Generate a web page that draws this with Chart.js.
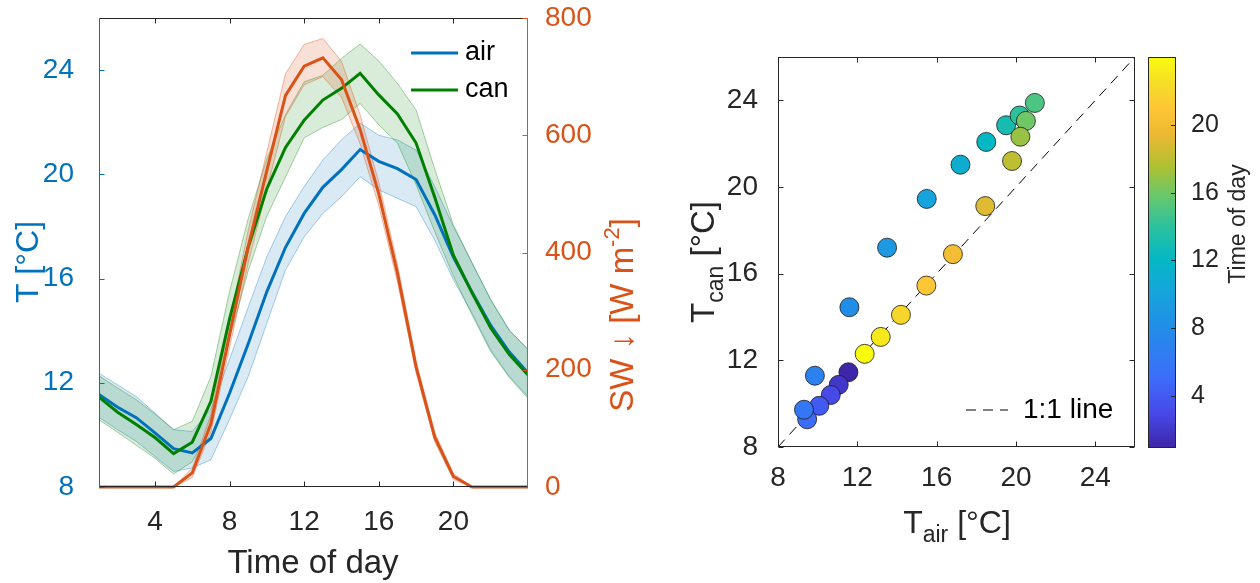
<!DOCTYPE html>
<html>
<head>
<meta charset="utf-8">
<script src="https://cdn.jsdelivr.net/npm/chart.js@4/dist/chart.umd.min.js"></script>
<style>
  body { margin:0; background:#fff; width:1260px; height:583px; overflow:hidden; position:relative; }
  .panel { position:absolute; top:0; height:583px; }
  #p-left  { left:0;     width:640px; }
  #p-right { left:640px; width:620px; }
</style>
</head>
<body>
<div class="panel" id="p-left"><canvas id="chart-diurnal"></canvas></div>
<div class="panel" id="p-right"><canvas id="chart-scatter"></canvas></div>
<script>
/* ---- data (hourly means) ---- */
const hours   = [1,2,3,4,5,6,7,8,9,10,11,12,13,14,15,16,17,18,19,20,21,22,23,24];
const airMean = [11.55,11.06,10.66,10.08,9.47,9.31,9.86,11.6,13.5,15.5,17.2,18.5,19.5,20.18,20.95,20.5,20.22,19.8,18.45,16.82,15.48,14.2,13.18,12.37];
const airLo   = [10.67,10.2,9.75,9.17,8.6,8.73,9.05,10.6,12.24,14.29,16.33,17.6,18.5,19.14,19.91,19.4,19.08,18.76,17.48,15.95,14.67,13.26,12.24,11.47];
const airHi   = [12.37,11.92,11.47,10.84,10.2,10.13,11.0,12.9,14.9,16.84,18.38,19.53,20.55,21.32,21.96,21.5,21.32,20.93,19.53,18.0,16.6,15.18,14.03,13.26];
const canMean = [11.45,10.87,10.4,9.9,9.28,9.72,11.29,14.45,17.2,19.45,21.03,22.08,22.85,23.3,23.88,23.05,22.32,21.2,19.12,16.9,15.45,14.1,13.08,12.3];
const canLo   = [10.58,10.1,9.6,9.1,8.5,8.97,10.32,13.7,16.3,18.4,19.9,21.4,21.8,22.1,22.72,21.9,21.2,19.6,17.8,16.1,14.6,13.2,12.2,11.4];
const canHi   = [12.27,11.8,11.35,10.8,10.2,10.52,12.24,15.5,18.3,20.6,22.3,23.55,23.8,24.45,25.0,24.35,23.49,22.47,20.2,18.06,16.6,15.2,14.0,13.3];
const swMean  = [0,0,0,0,0,24,108,260,410,540,668,718,732,695,610,500,365,205,85,18,0,0,0,0];
const swLo    = [0,0,0,0,0,16,94,238,382,508,632,686,700,665,585,480,350,195,77,13,0,0,0,0];
const swHi    = [0,0,0,0,0,32,124,282,438,572,705,755,765,726,635,520,380,215,93,23,0,0,0,0];

const hourRange = [1,24];
const hourTicks = [4,8,12,16,20];
const tRange    = [8,26];
const tTicks    = [8,12,16,20,24];
const swRange   = [0,800];
const swTicks   = [0,200,400,600,800];
const scatRange = [8,26];
const scatTicks = [8,12,16,20,24];
const cbRange   = [1,24];
const cbTicks   = [4,8,12,16,20];
const oneToOne  = [8,26];

/* ---- style ---- */
const FONT = "'Liberation Sans', Arial, sans-serif";
const INK = '#262626', BLUE = '#0072BD', GREEN = '#008000', ORANGE = '#D95319';
// parula-like ramp
const PARULA = [
  [0.00,62,38,168],[0.09,71,74,234],[0.18,60,110,250],[0.30,35,140,232],
  [0.40,22,165,218],[0.48,4,183,196],[0.56,40,193,160],[0.64,100,200,110],
  [0.72,175,192,50],[0.80,235,185,50],[0.86,254,195,55],[0.93,245,220,40],[1.00,249,251,14]
];
function parula(t){
  t = Math.max(0, Math.min(1, t));
  for (let i=1;i<PARULA.length;i++){
    const a=PARULA[i-1], b=PARULA[i];
    if (t<=b[0]){ const f=(t-a[0])/(b[0]-a[0]);
      return `rgb(${Math.round(a[1]+f*(b[1]-a[1]))},${Math.round(a[2]+f*(b[2]-a[2]))},${Math.round(a[3]+f*(b[3]-a[3]))})`; }
  }
  return 'rgb(249,251,14)';
}

Chart.defaults.font.family = FONT;
Chart.defaults.color = INK;

const xy = arr => hours.map((h,i)=>({x:h, y:arr[i]}));
const fixTicks = list => scale => { scale.ticks = list.map(v=>({value:v})); };
// fixed axis size, no extra label overhang padding
const noPad = s => { s.paddingTop = s.paddingBottom = s.paddingLeft = s.paddingRight = 0; };
const fixW = w => scale => { scale.width = w; noPad(scale); };
const fixH = h => scale => { scale.height = h; noPad(scale); };

function seg(ctx,x1,y1,x2,y2){ ctx.beginPath(); ctx.moveTo(x1,y1); ctx.lineTo(x2,y2); ctx.stroke(); }

// rich text: parts [{t,size,dy}], centred on (x,y), optional rotation
function drawRich(ctx, it){
  ctx.save();
  ctx.translate(it.x, it.y); ctx.rotate(it.rot||0);
  ctx.fillStyle = it.color || INK; ctx.textBaseline='alphabetic'; ctx.textAlign='left';
  let total = 0;
  const ws = it.parts.map(p => { ctx.font = `${p.size}px ${FONT}`; const w = ctx.measureText(p.t).width; total += w; return w; });
  let cx = -total/2;
  const base = it.parts[0].size*0.36;
  it.parts.forEach((p,i) => { ctx.font = `${p.size}px ${FONT}`; ctx.fillText(p.t, cx, base + (p.dy||0)); cx += ws[i]; });
  ctx.restore();
}
const titlesPlugin = list => ({ id:'titles', afterDraw(chart){ list.forEach(it => drawRich(chart.ctx, it)); } });

/* ---- left: diurnal cycle ---- */
const band = (arr, color, axis, fill) => ({ data: xy(arr), borderColor: color.line, borderWidth: 1,
  backgroundColor: color.fill, fill: fill ? '+1' : false, yAxisID: axis });
const cAir = {line:'rgba(0,114,189,0.35)', fill:'rgba(0,114,189,0.15)'};
const cCan = {line:'rgba(0,128,0,0.35)',   fill:'rgba(0,128,0,0.15)'};
const cSw  = {line:'rgba(217,83,25,0.4)',  fill:'rgba(217,83,25,0.18)'};

const frameLeft = {
  id:'frameLeft',
  afterDatasetsDraw(chart){
    const {ctx, chartArea:a, scales:{x, yT, ySW}} = chart;
    const L=a.left+.5, R=a.right-.5, T=a.top+.5, B=a.bottom-.5;
    ctx.save(); ctx.lineWidth=1;
    ctx.strokeStyle=INK; seg(ctx,L,T,R,T); seg(ctx,L,B,R,B);
    x.ticks.forEach(t=>{ const p=Math.round(x.getPixelForValue(t.value))+.5; seg(ctx,p,B,p,B-5); seg(ctx,p,T,p,T+5); });
    ctx.strokeStyle=BLUE; seg(ctx,L,T,L,B);
    yT.ticks.forEach(t=>{ const p=Math.round(yT.getPixelForValue(t.value))+.5; seg(ctx,L,p,L+5,p); });
    ctx.strokeStyle=ORANGE; seg(ctx,R,T,R,B);
    ySW.ticks.forEach(t=>{ const p=Math.round(ySW.getPixelForValue(t.value))+.5; seg(ctx,R,p,R-5,p); });
    ctx.restore();
  }
};
const legendLeft = {
  id:'legendLeft',
  afterDraw(chart){
    const {ctx, chartArea:a} = chart;
    const items = chart.data.datasets.filter(d => d.label==='air' || d.label==='can').reverse();
    ctx.save(); ctx.font = `27px ${FONT}`; ctx.textBaseline='middle'; ctx.fillStyle='#000';
    items.forEach((d,i) => {
      const y = a.top + 35 + i*37;
      ctx.strokeStyle = d.borderColor; ctx.lineWidth = 3; seg(ctx, a.right-117, y, a.right-70, y);
      ctx.fillText(d.label, a.right-63, y);
    });
    ctx.restore();
  }
};

new Chart(document.getElementById('chart-diurnal'), {
  type:'line',
  data:{ datasets:[
    {label:'SW',  data:xy(swMean),  borderColor:ORANGE, borderWidth:3, yAxisID:'ySW', clip:3},
    {label:'can', data:xy(canMean), borderColor:GREEN,  borderWidth:3, yAxisID:'yT'},
    {label:'air', data:xy(airMean), borderColor:BLUE,   borderWidth:3, yAxisID:'yT'},
    band(swHi,  cSw,  'ySW', true),  band(swLo,  cSw,  'ySW', false),
    band(canHi, cCan, 'yT',  true),  band(canLo, cCan, 'yT',  false),
    band(airHi, cAir, 'yT',  true),  band(airLo, cAir, 'yT',  false)
  ]},
  options:{
    responsive:true, maintainAspectRatio:false, animation:false, devicePixelRatio:1,
    layout:{ padding:{ top:18, left:0, right:0, bottom:0 } },
    elements:{ point:{ radius:0 }, line:{ tension:0 } },
    plugins:{ legend:{ display:false }, tooltip:{ enabled:false } },
    scales:{
      x:{ type:'linear', min:hourRange[0], max:hourRange[1], grid:{display:false}, border:{display:false},
          afterBuildTicks:fixTicks(hourTicks), afterFit:fixH(96),
          ticks:{ font:{size:28}, color:INK, padding:10, maxRotation:0 } },
      yT:{ type:'linear', position:'left', min:tRange[0], max:tRange[1], grid:{display:false}, border:{display:false},
          afterBuildTicks:fixTicks(tTicks), afterFit:fixW(99),
          ticks:{ font:{size:28}, color:BLUE, padding:17 } },
      ySW:{ type:'linear', position:'right', min:swRange[0], max:swRange[1], grid:{display:false}, border:{display:false},
          afterBuildTicks:fixTicks(swTicks), afterFit:fixW(112),
          ticks:{ font:{size:28}, color:ORANGE, padding:9 } }
    }
  },
  plugins:[frameLeft, legendLeft, titlesPlugin([
    { parts:[{t:'T [°C]', size:32}], x:26, y:262, rot:-Math.PI/2, color:BLUE },
    { parts:[{t:'SW ↓ [W m', size:33},{t:'-2', size:22, dy:-14},{t:']', size:33}], x:621, y:315, rot:-Math.PI/2, color:ORANGE },
    { parts:[{t:'Time of day', size:33}], x:313, y:561, color:INK }
  ])]
});

/* ---- right: canopy vs air temperature ---- */
const frameBox = {
  id:'frameBox',
  afterDatasetsDraw(chart){
    const {ctx, chartArea:a, scales:{x, y}} = chart;
    const L=a.left+.5, R=a.right-.5, T=a.top+.5, B=a.bottom-.5;
    ctx.save(); ctx.lineWidth=1; ctx.strokeStyle=INK;
    ctx.strokeRect(L, T, R-L, B-T);
    x.ticks.forEach(t=>{ const p=Math.round(x.getPixelForValue(t.value))+.5; seg(ctx,p,B,p,B-5); seg(ctx,p,T,p,T+5); });
    y.ticks.forEach(t=>{ const p=Math.round(y.getPixelForValue(t.value))+.5; seg(ctx,L,p,L+5,p); seg(ctx,R,p,R-5,p); });
    ctx.restore();
  }
};
const colorbar = {
  id:'colorbar',
  afterDraw(chart){
    const {ctx, chartArea:a, scales:{cb}} = chart;
    const x0 = a.right + 13, w = 27;
    const top = cb.getPixelForValue(cbRange[1]), bot = cb.getPixelForValue(cbRange[0]);
    const g = ctx.createLinearGradient(0, bot, 0, top);
    PARULA.forEach(s => g.addColorStop(s[0], `rgb(${s[1]},${s[2]},${s[3]})`));
    ctx.save();
    ctx.fillStyle = g; ctx.fillRect(x0, top, w, bot-top);
    ctx.strokeStyle = INK; ctx.lineWidth = 1; ctx.strokeRect(x0+.5, Math.round(top)+.5, w, Math.round(bot-top));
    cb.ticks.forEach(t=>{ const p=Math.round(cb.getPixelForValue(t.value))+.5; seg(ctx,x0+w,p,x0+w-4,p); });
    ctx.restore();
  }
};
const legendRight = {
  id:'legendRight',
  afterDraw(chart){
    const {ctx, chartArea:a} = chart;
    const d = chart.data.datasets[1];
    const yL = a.bottom - 37;
    ctx.save();
    ctx.strokeStyle = d.borderColor; ctx.lineWidth = 1; ctx.setLineDash(d.borderDash);
    seg(ctx, a.right-169, yL, a.right-127, yL);
    ctx.setLineDash([]);
    ctx.font = `28px ${FONT}`; ctx.textBaseline='middle'; ctx.fillStyle='#000';
    ctx.fillText(d.label, a.right-112, yL);
    ctx.restore();
  }
};

new Chart(document.getElementById('chart-scatter'), {
  type:'scatter',
  data:{ datasets:[
    { label:'hourly', data: hours.map((h,i)=>({x:airMean[i], y:canMean[i]})),
      backgroundColor: hours.map(h => parula((h-cbRange[0])/(cbRange[1]-cbRange[0]))),
      borderColor:'#1a1a1a', borderWidth:0.8, pointRadius:9.5, pointHoverRadius:9.5 },
    { type:'line', label:'1:1 line', data: oneToOne.map(v=>({x:v, y:v})),
      borderColor:'#000', borderWidth:1, borderDash:[10,7], pointRadius:0, fill:false }
  ]},
  options:{
    responsive:true, maintainAspectRatio:false, animation:false, devicePixelRatio:1,
    layout:{ padding:{ top:57, left:0, right:0, bottom:0 } },
    plugins:{ legend:{ display:false }, tooltip:{ enabled:false } },
    scales:{
      x:{ type:'linear', min:scatRange[0], max:scatRange[1], grid:{display:false}, border:{display:false},
          afterBuildTicks:fixTicks(scatTicks), afterFit:fixH(136),
          ticks:{ font:{size:28}, color:INK, padding:6, maxRotation:0 } },
      y:{ type:'linear', position:'left', min:scatRange[0], max:scatRange[1], grid:{display:false}, border:{display:false},
          afterBuildTicks:fixTicks(scatTicks), afterFit:fixW(138),
          ticks:{ font:{size:28}, color:INK, padding:12 } },
      cb:{ type:'linear', position:'right', min:cbRange[0], max:cbRange[1], grid:{display:false}, border:{display:false},
          afterBuildTicks:fixTicks(cbTicks), afterFit:fixW(125),
          ticks:{ font:{size:25}, color:INK, padding:48 } }
    }
  },
  plugins:[frameBox, colorbar, legendRight, titlesPlugin([
    { parts:[{t:'T', size:33},{t:'can', size:23, dy:9},{t:' [°C]', size:33}], x:62, y:262, rot:-Math.PI/2, color:INK },
    { parts:[{t:'T', size:32},{t:'air', size:23, dy:9},{t:' [°C]', size:32}], x:317, y:521, color:INK },
    { parts:[{t:'Time of day', size:23}], x:597, y:224, rot:-Math.PI/2, color:INK }
  ])]
});
</script>
</body>
</html>
